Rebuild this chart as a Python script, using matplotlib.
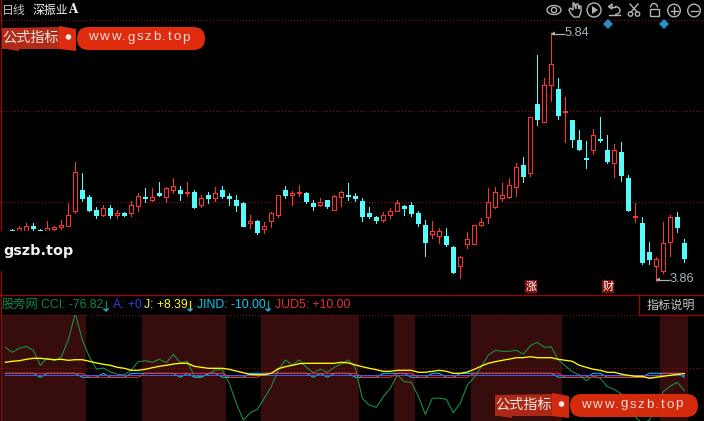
"""K-line chart with CCI/J/JIND/JUD5 indicator pane, dark trading-terminal look."""
import numpy as np
import matplotlib
matplotlib.use("Agg")
import matplotlib.pyplot as plt
from matplotlib.patches import Circle, Ellipse, FancyBboxPatch, Polygon, Rectangle, Arc

CJK = ["Noto Sans CJK SC", "DejaVu Sans"]
plt.rcParams["font.family"] = CJK

# candles, index 1..97
opens = [4.268, 4.248, 4.256, 4.294, 4.264, 4.248, 4.274, 4.288, 4.298, 4.418,
         4.584, 4.528, 4.424, 4.384, 4.438, 4.386, 4.400, 4.402, 4.458, 4.528,
         4.506, 4.560, 4.530, 4.586, 4.584, 4.560, 4.568, 4.466, 4.544, 4.520,
         4.584, 4.536, 4.504, 4.480, 4.320, 4.336, 4.272, 4.336, 4.384, 4.584,
         4.544, 4.560, 4.560, 4.480, 4.466, 4.504, 4.424, 4.530, 4.544, 4.536,
         4.496, 4.400, 4.368, 4.344, 4.384, 4.418, 4.456, 4.464, 4.400, 4.304,
         4.232, 4.216, 4.216, 4.128, 3.978, 4.152, 4.152, 4.304, 4.368, 4.448,
         4.520, 4.528, 4.610, 4.784, 4.722, 5.272, 5.128, 5.424, 5.392, 5.208,
         5.144, 4.984, 4.840, 4.904, 4.992, 4.904, 4.800, 4.888, 4.680, 4.368,
         4.320, 4.088, 3.976, 3.936, 4.168, 4.368, 4.160]
closes = [4.260, 4.278, 4.294, 4.280, 4.260, 4.278, 4.288, 4.304, 4.382, 4.726,
          4.520, 4.424, 4.384, 4.438, 4.384, 4.400, 4.384, 4.464, 4.536, 4.520,
          4.528, 4.544, 4.600, 4.616, 4.560, 4.568, 4.448, 4.518, 4.520, 4.558,
          4.536, 4.520, 4.464, 4.296, 4.336, 4.248, 4.296, 4.400, 4.544, 4.544,
          4.560, 4.568, 4.496, 4.456, 4.488, 4.456, 4.536, 4.568, 4.536, 4.520,
          4.376, 4.376, 4.344, 4.384, 4.416, 4.480, 4.440, 4.400, 4.320, 4.168,
          4.254, 4.254, 4.152, 3.928, 4.046, 4.190, 4.302, 4.328, 4.488, 4.568,
          4.544, 4.624, 4.768, 4.696, 5.168, 5.152, 5.424, 5.592, 5.184, 5.216,
          4.992, 4.912, 4.832, 5.024, 4.984, 4.816, 4.904, 4.704, 4.424, 4.376,
          4.008, 4.032, 4.032, 4.160, 4.368, 4.288, 4.040]
highs = [4.274, 4.296, 4.320, 4.320, 4.274, 4.336, 4.296, 4.344, 4.480, 4.808,
         4.720, 4.544, 4.448, 4.464, 4.464, 4.424, 4.408, 4.496, 4.560, 4.600,
         4.600, 4.648, 4.608, 4.680, 4.616, 4.648, 4.584, 4.544, 4.568, 4.608,
         4.616, 4.560, 4.544, 4.488, 4.384, 4.344, 4.328, 4.408, 4.544, 4.616,
         4.576, 4.624, 4.568, 4.504, 4.520, 4.504, 4.544, 4.576, 4.640, 4.560,
         4.520, 4.448, 4.376, 4.408, 4.440, 4.504, 4.464, 4.488, 4.416, 4.344,
         4.336, 4.280, 4.280, 4.136, 4.056, 4.248, 4.304, 4.360, 4.600, 4.608,
         4.640, 4.680, 4.800, 4.848, 5.168, 5.664, 5.480, 5.840, 5.480, 5.328,
         5.144, 5.064, 4.976, 5.072, 5.168, 5.024, 4.952, 4.968, 4.704, 4.480,
         4.368, 4.168, 4.048, 4.328, 4.384, 4.408, 4.192]
lows = [4.256, 4.240, 4.256, 4.256, 4.256, 4.248, 4.256, 4.272, 4.296, 4.402,
        4.496, 4.416, 4.360, 4.376, 4.360, 4.360, 4.376, 4.376, 4.416, 4.488,
        4.496, 4.536, 4.488, 4.560, 4.504, 4.536, 4.440, 4.448, 4.480, 4.496,
        4.520, 4.464, 4.416, 4.296, 4.280, 4.232, 4.240, 4.288, 4.368, 4.520,
        4.464, 4.536, 4.480, 4.424, 4.456, 4.440, 4.424, 4.456, 4.504, 4.496,
        4.336, 4.360, 4.320, 4.328, 4.360, 4.416, 4.384, 4.376, 4.296, 4.056,
        4.200, 4.160, 4.136, 3.920, 3.880, 4.120, 4.152, 4.296, 4.320, 4.440,
        4.496, 4.520, 4.536, 4.648, 4.696, 5.104, 5.128, 5.296, 5.152, 4.968,
        4.928, 4.904, 4.760, 4.872, 4.968, 4.800, 4.688, 4.656, 4.416, 4.328,
        3.992, 3.992, 3.860, 3.920, 4.056, 4.248, 4.008]

# indicator pane, index 0..97
cci = [140, 115, 135, 145, 125, 50, 86, 73, 93, 176, 310, 176, 93, 31, 36, 18, 5, 2, 27, 68,
       73, 65, 80, 63, 105, 63, 70, -3, -7, 5, 27, 27, -40, -140, -224, -187, -170, -115, -57, 27,
       77, 52, 77, 40, 13, 31, 15, 40, 56, 77, 40, -115, -149, -160, -107, -65, 2, -32, -35, -104,
       -195, -115, -114, -120, -187, -140, -49, -10, 43, 101, 125, 120, 120, 125, 106, 148, 165, 140, 143, 77,
       47, 18, 2, -27, -3, -15, -57, -70, -94, -157, -207, -240, -224, -157, -82, -54, -35, -76.82]
j_line = [65, 70, 73, 80, 85, 85, 81, 78, 80, 75, 78, 78, 70, 62, 55, 50, 40, 35, 25, 25,
          30, 38, 45, 50, 56, 60, 60, 45, 40, 35, 35, 35, 30, 21, 13, 5, 3, 3, 10, 33,
          43, 50, 58, 60, 60, 60, 60, 60, 65, 62, 52, 43, 35, 28, 20, 20, 25, 25, 25, 15,
          15, 20, 25, 20, 10, 10, 16, 30, 46, 60, 68, 75, 81, 88, 88, 93, 88, 88, 88, 80,
          75, 70, 50, 40, 30, 25, 15, 15, 6, 0, -5, -5, -15, -10, -5, 0, 5, 8.39]
jind = [10, 10, 10, 10, 10, -10, 10, 10, 10, 10, 10, -10, -10, -10, 10, -10, -10, -10, 10, 10,
        10, 10, 10, 10, 10, -10, 10, -10, -10, 10, 10, -10, -10, -10, -10, 10, 10, 10, 10, 10,
        10, 10, 10, 10, -10, 10, -10, 10, 10, 10, -10, -10, -10, -10, 10, 10, 10, 10, -10, -10,
        -10, 10, 10, -10, -10, 10, 10, 10, 10, 10, 10, 10, 10, 10, 10, 10, 10, 10, 10, -10,
        -10, -10, -10, -10, 10, 10, -10, -10, -10, -10, -10, -10, 10, 10, 10, 10, 10, -10]
jud5 = ([10] * 12 + [-10] * 8 + [10] * 12 + [-10] * 5 + [10] * 14 + [-10] * 5 + [10] * 3
        + [-10] * 8 + [10] * 13 + [-10] * 14 + [10] * 4)
a_line = [0] * 98

high_label, low_label = "5.84", "3.86"
legend_items = ["CCI: -76.82", "A: +0", "J: +8.39", "JIND: -10.00", "JUD5: +10.00"]

UP, DOWN = "#ff3232", "#54fcfc"
DARK_RED = "#8f0a0a"
BAND = "#360c0c"

fig = plt.figure(figsize=(7.04, 4.21), dpi=100, facecolor="black")
W, H = 704, 421


def pane(top, bottom, y0, y1):
    ax = fig.add_axes([0, (H - bottom) / H, 1, (bottom - top) / H], facecolor="black")
    ax.set_xlim(-5.3 / 7, (W - 5.3) / 7)
    ax.set_ylim(y0, y1)
    ax.axis("off")
    return ax


def dotted(ax, v):
    # one pixel every three, a dashed Line2D came out uneven when aliased
    xs = np.arange(-5.3 / 7, (W - 5.3) / 7, 3 / 7)
    ax.plot(xs, [v] * len(xs), ls="", marker=",", color=DARK_RED, zorder=1)


# --- price pane
ax = pane(0, 295, 3.744, 6.104)
for v in [5.940, 5.212, 4.484]:
    dotted(ax, v)
idx = np.arange(1, len(opens) + 1)
o, c = np.array(opens), np.array(closes)
cols = [UP if cl >= op else DOWN for op, cl in zip(o, c)]
# aliased strokes above 0.72pt jump to 2px, so stay just under it
ax.vlines(idx, lows, highs, colors=cols, lw=0.7, antialiased=False, zorder=2)
ax.bar(idx, np.abs(c - o), bottom=np.minimum(o, c), width=4 / 7,
       color=["black" if k == UP else DOWN for k in cols], edgecolor=cols, lw=0.7,
       antialiased=False, zorder=3)

# --- indicator pane
ax2 = pane(315, 421, -228.5, 301.5)
band_idx = [i for i, v in enumerate(jud5) if v > 0]
ax2.bar(band_idx, 1, width=1.02, bottom=0, color=BAND, lw=0, antialiased=False,
        transform=ax2.get_xaxis_transform(), zorder=0)
for v in [34, 299]:
    dotted(ax2, v)
ln = np.arange(len(cci))
ax2.plot(ln, cci, color="#17a04a", lw=0.7, zorder=2)
ax2.plot(ln, jind, color="#12c8f0", lw=0.7, zorder=3)
ax2.plot(ln, a_line, color="#5050f0", lw=0.7, antialiased=False, zorder=4)
ax2.plot(ln, jud5, color="#f03030", lw=0.7, zorder=5)
ax2.plot(ln, j_line, color="#ffff00", lw=0.95, zorder=6)

# --- overlay in pixel coordinates
ov = fig.add_axes([0, 0, 1, 1])
ov.set_xlim(0, W)
ov.set_ylim(H, 0)
ov.axis("off")
ov.patch.set_alpha(0)
rend = fig.canvas.get_renderer()


def tracked(x, y, s, tracking, **kw):
    """Text laid out char by char, the terminal's watermark font is letter-spaced."""
    for ch in s:
        t = ov.text(x, y, ch, va="center", ha="left", **kw)
        x += t.get_window_extent(rend).width + tracking


ov.plot([0.5, 0.5], [0, H], color=DARK_RED, lw=1, zorder=1)
ov.plot([0, W], [294.5, 294.5], color=DARK_RED, lw=1, zorder=1)
ov.plot([638.5, 638.5, W], [294, 314.5, 314.5], color=DARK_RED, lw=1, zorder=1)
ov.add_patch(Rectangle((0, 231), 76, 40, color="black", lw=0, zorder=2))
ov.text(3, 251, "gszb.top", color="#f2f2f2", fontsize=10.4, family="DejaVu Sans",
        weight="bold", va="center", zorder=3)

ov.text(2, 10.5, "日线", color="#c4c4c4", fontsize=8.6, va="center", zorder=3)
ov.text(33, 10.5, "深振业", color="#f4f4f4", fontsize=8.6, va="center", zorder=3)
ov.text(68, 9.5, "A", color="#f4f4f4", fontsize=8.6, va="center", family="DejaVu Serif",
        weight="bold", zorder=3)

# toolbar icons
G = "#b4b4b4"
ic = dict(fill=False, ec=G, lw=1, zorder=3)
ov.add_patch(Ellipse((554, 10), 14, 9, **ic))
ov.add_patch(Circle((554, 10), 2.6, **ic))
ov.add_patch(Polygon([(569, 10), (571, 14), (574, 17), (579, 17), (581, 12), (581, 6), (579, 6),
                      (579, 9), (578, 4), (576, 4), (576, 9), (574, 3), (573, 3), (573, 10),
                      (570, 8)], **ic))
ov.add_patch(Circle((594, 10), 7, **ic))
ov.add_patch(Polygon([(592, 6), (598, 10), (592, 14)], color=G, lw=0, zorder=3))
ov.add_patch(Arc((615, 10.5), 10, 8, theta1=-90, theta2=90, **ic))
ov.plot([609, 615], [6.5, 6.5], color=G, lw=1, zorder=3)
ov.plot([609, 620], [14.5, 14.5], color=G, lw=1, zorder=3)
ov.plot([609, 612, 612, 609], [6.5, 4, 9, 6.5], color=G, lw=1, zorder=3)
ov.add_patch(Circle((630.5, 14), 2.2, **ic))
ov.add_patch(Circle((637.5, 14), 2.2, **ic))
ov.plot([631, 638], [12, 4], color=G, lw=1, zorder=3)
ov.plot([637, 630], [12, 4], color=G, lw=1, zorder=3)
ov.add_patch(Rectangle((649.5, 8.5), 9, 7, **ic))
ov.add_patch(Arc((654, 7.5), 7, 8, theta1=180, theta2=360, **ic))
for cx in [674, 694]:
    ov.add_patch(Circle((cx, 10.5), 6.3, **ic))
    ov.plot([cx - 3.5, cx + 3.5], [10.5, 10.5], color=G, lw=1, zorder=3)
ov.plot([674, 674], [7, 14], color=G, lw=1, zorder=3)
ov.plot([608, 664], [24.3, 24.3], ls="", marker="D", ms=5.2, color="#2a8fc6", mew=0, zorder=3)

# high / low labels
L = "#a8b4c0"
ov.plot([552, 564], [33.5, 33.5], color="#b0b0b0", lw=0.9, zorder=3)
ov.add_patch(Polygon([(551, 33.5), (555, 31.5), (555, 35.5)], color="#b0b0b0", lw=0, zorder=3))
ov.text(565, 33, high_label, color=L, fontsize=9.2, family="Liberation Sans", va="center", zorder=3)
ov.plot([657, 669], [279.5, 279.5], color="#b0b0b0", lw=0.9, zorder=3)
ov.add_patch(Polygon([(656, 279.5), (660, 277.5), (660, 281.5)], color="#b0b0b0", lw=0, zorder=3))
ov.text(670, 279, low_label, color=L, fontsize=9.2, family="Liberation Sans", va="center", zorder=3)

# tags
for x0, t in [(525, "涨"), (602, "财")]:
    ov.add_patch(Rectangle((x0, 280), 12, 13, color="#8a0c0c", lw=0, zorder=3))
    ov.text(x0 + 6, 286.5, t, color="white", fontsize=8, ha="center", va="center", zorder=4)

# legend row
ov.text(2, 304.5, "股旁网", color="#12874a", fontsize=8.8, va="center", zorder=3)
leg_x = [41, 113, 144, 197, 275]
leg_c = ["#12874a", "#3c3ce0", "#ffff30", "#12c8f0", "#e83030"]
for x0, t, k in zip(leg_x, legend_items, leg_c):
    ov.text(x0, 304.5, t, color=k, fontsize=8.85, family="Liberation Sans", va="center", zorder=3)
for x0, k in [(106, "#12874a"), (190, "#d8d820"), (268, "#12a0a0")]:
    ov.plot([x0, x0], [301, 310], color=k, lw=1, zorder=3)
    ov.plot([x0 - 2, x0, x0 + 2], [309, 311, 309], color="#30b0f0", lw=1, zorder=3)
ov.text(647, 305, "指标说明", color="#c8c8c8", fontsize=8.7, va="center", zorder=3)


def watermark(dx, dy, alpha=1.0):
    ov.add_patch(Polygon([(2 + dx, 28 + dy), (59 + dx, 27 + dy), (59 + dx, 49 + dy), (19 + dx, 49 + dy),
                          (19 + dx, 51 + dy), (6 + dx, 49 + dy), (2 + dx, 49 + dy)],
                         color="#b22a18", lw=0, alpha=alpha, zorder=5))
    ov.add_patch(Polygon([(59 + dx, 26 + dy), (76 + dx, 29 + dy), (76 + dx, 51 + dy), (59 + dx, 49 + dy)],
                         color="#dc2c10", lw=0, alpha=alpha, zorder=5))
    ov.add_patch(FancyBboxPatch((77 + dx, 27 + dy), 128, 23, boxstyle="round,pad=0,rounding_size=11.5",
                                color="#e02c0e", lw=0, alpha=alpha, zorder=5))
    ov.text(2.5 + dx, 37.5 + dy, "公式指标", color="#f2e6e0", fontsize=10.2, va="center", zorder=6)
    ov.add_patch(Circle((68.5 + dx, 37 + dy), 2.8, color="#f6e8e4", lw=0, zorder=6))
    tracked(88 + dx, 37.5 + dy, "www.gszb.top", 1.7, color="#f4dcd6", fontsize=9.6,
            family="Liberation Sans", zorder=6)


watermark(0, 0)
watermark(493, 367, alpha=0.95)

fig.savefig("out.png", dpi=100, facecolor="black")
